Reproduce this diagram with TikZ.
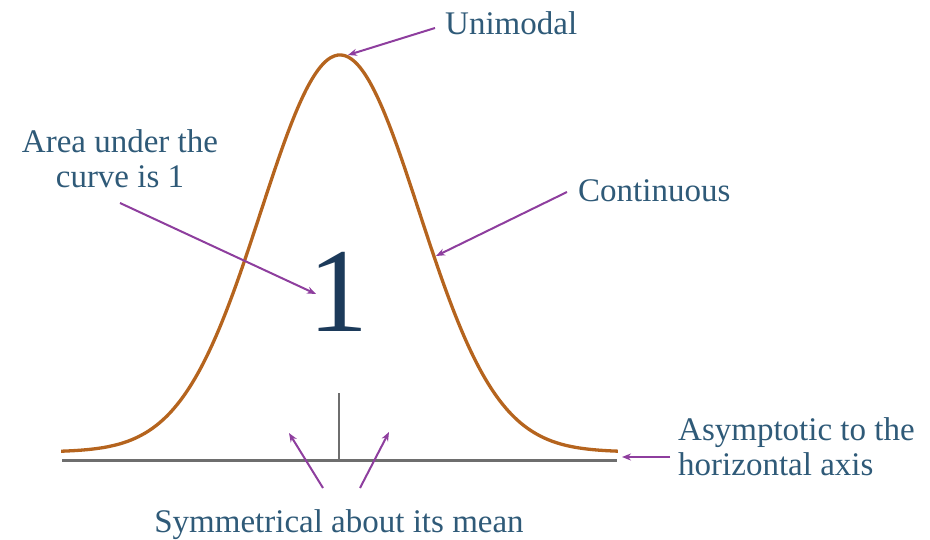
\documentclass[tikz,border=0pt]{standalone}
\usepackage{fontspec}
\setmainfont{Liberation Serif}
\usetikzlibrary{arrows.meta}
\definecolor{curvec}{HTML}{B5641E}
\definecolor{axisc}{HTML}{6E6E6E}
\definecolor{arrc}{HTML}{8E3E9E}
\definecolor{txtc}{HTML}{2F5A78}
\definecolor{onec}{HTML}{1C3A5A}
\tikzset{
  lbl/.style={inner sep=0pt, text=txtc, font=\fontsize{33}{35}\selectfont},
  arr/.style={draw=arrc, line width=2pt, -{Stealth[length=9pt,width=7pt]}},
}
\begin{document}
\begin{tikzpicture}[x=1pt,y=-1pt]
\useasboundingbox (0,0) rectangle (930,540);
% axis and mean
\coordinate (axL) at (62,460);
\coordinate (axR) at (617,460);
\coordinate (mtop) at (339,393);
\coordinate (mbot) at (339,460);
\draw[axisc, line width=3pt] (axL) -- (axR);
\draw[axisc, line width=2.6pt] (mbot) -- (mtop);
% curve
\draw[curvec, line width=3.3pt, line join=round] plot[domain=-3.53:3.52, samples=160, smooth]
  ({340+79*\x},{452-397*exp(-\x*\x/2)});
% big one
\node[inner sep=0pt, anchor=base, text=onec, font=\fontsize{120}{120}\selectfont] (one) at (338,332) {1};
% labels
\node[lbl, anchor=base west] (uni) at (445,35) {Unimodal};
\node[lbl, anchor=base] (area1) at (120,153) {Area under the};
\node[lbl, anchor=base] (area2) at (120,188) {curve is 1};
\node[lbl, anchor=base west] (cont) at (578,202) {Continuous};
\node[lbl, anchor=base west] (asy1) at (678,440) {Asymptotic to the};
\node[lbl, anchor=base west] (asy2) at (678,475) {horizontal axis};
\node[lbl, anchor=base] (sym) at (339,532) {Symmetrical about its mean};
% arrow endpoints
\coordinate (uniS) at (435,28);
\coordinate (uniE) at (348,55);
\coordinate (areaS) at (120,203);
\coordinate (areaE) at (316,294);
\coordinate (contS) at (567,192);
\coordinate (contE) at (436,256);
\coordinate (asyS) at (670,457);
\coordinate (asyE) at (622,457);
\coordinate (symLS) at (323,488);
\coordinate (symLE) at (289,433);
\coordinate (symRS) at (360,488);
\coordinate (symRE) at (389,432);
\draw[arr] (uniS) -- (uniE);
\draw[arr] (areaS) -- (areaE);
\draw[arr] (contS) -- (contE);
\draw[arr] (asyS) -- (asyE);
\draw[arr] (symLS) -- (symLE);
\draw[arr] (symRS) -- (symRE);
\end{tikzpicture}
\end{document}
